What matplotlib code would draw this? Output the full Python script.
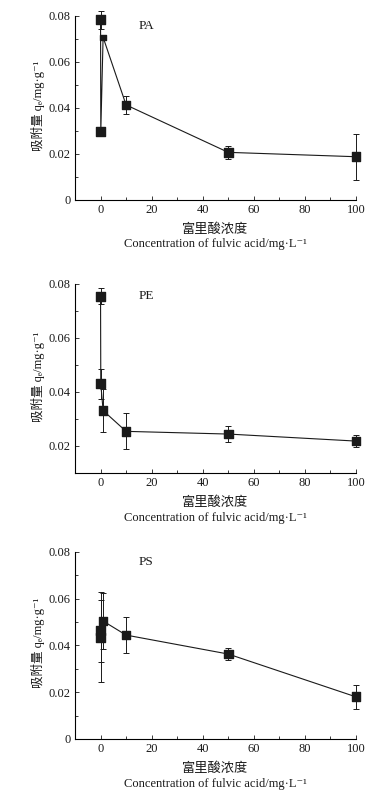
import matplotlib
matplotlib.use('Agg')
import matplotlib.pyplot as plt
from matplotlib.ticker import FuncFormatter, MultipleLocator

plt.rcParams['font.family'] = ['Liberation Serif', 'Noto Sans CJK SC', 'DejaVu Sans']

# fulvic acid concentration, mg/L
conc = [0, 0.1, 1, 10, 50, 100]

# adsorbed amount qe, mg/g, and error bar half-widths
pa_q = [0.0783, 0.0297, 0.0707, 0.0413, 0.0207, 0.0188]
pa_err = [0.0040, 0.0010, 0.0005, 0.0039, 0.0028, 0.0099]

pe_q = [0.0753, 0.0429, 0.0330, 0.0253, 0.0243, 0.0217]
pe_err = [0.0030, 0.0055, 0.0080, 0.0067, 0.0028, 0.0022]

ps_q = [0.0435, 0.0462, 0.0504, 0.0444, 0.0363, 0.0180]
ps_err = [0.0192, 0.0134, 0.0118, 0.0078, 0.0024, 0.0050]

# smaller marker for the one point drawn small in the original
pa_sizes = [40, 40, 14, 40, 40, 40]
std_sizes = [40] * 6

panels = [
    ('PA', pa_q, pa_err, pa_sizes, (0, 0.082), [0.2016, 0.7478, 0.7554, 0.2380]),
    ('PE', pe_q, pe_err, std_sizes, (0.01, 0.081), [0.2016, 0.4039, 0.7554, 0.2420]),
    ('PS', ps_q, ps_err, std_sizes, (0, 0.082), [0.2016, 0.0681, 0.7554, 0.2420]),
]

col = '#1a1a1a'

fig = plt.figure(figsize=(3.72, 7.93), dpi=100)

for name, q, err, sizes, ylim, pos in panels:
    ax = fig.add_axes(pos)
    line, caps, bars = ax.errorbar(conc, q, yerr=err, color=col, lw=0.8, elinewidth=0.7,
                                   capsize=2.5, capthick=0.7, zorder=2)
    for art in [line, *caps, *bars]:
        art.set_clip_on(False)
    ax.scatter(conc, q, s=sizes, marker='s', color=col, zorder=3, clip_on=False)
    ax.set_xlim(-10, 100)
    ax.set_ylim(*ylim)
    ax.spines['top'].set_visible(False)
    ax.spines['right'].set_visible(False)
    ax.spines['left'].set_bounds(ylim[0], 0.08)
    for s in ('left', 'bottom'):
        ax.spines[s].set_linewidth(0.8)
    ax.xaxis.set_major_locator(MultipleLocator(20))
    ax.xaxis.set_minor_locator(MultipleLocator(10))
    ax.yaxis.set_major_locator(MultipleLocator(0.02))
    ax.yaxis.set_minor_locator(MultipleLocator(0.01))
    ax.yaxis.set_major_formatter(FuncFormatter(lambda v, p: '0' if abs(v) < 1e-9 else f'{v:.2f}'))
    ax.tick_params(which='both', direction='in', labelsize=9, width=0.6, colors=col, pad=3)
    ax.tick_params(which='major', length=3)
    ax.tick_params(which='minor', length=2)
    ax.text(15, 0.0755, name, fontsize=9.5, color=col, ha='left', va='center')
    ax.set_ylabel('吸附量 qₑ/mg·g⁻¹', fontsize=9, color=col, labelpad=3)
    ax.text(0.5, -0.155, '富里酸浓度', transform=ax.transAxes, fontsize=9.5,
            ha='center', va='center', color=col)
    ax.text(0.5, -0.235, 'Concentration of fulvic acid/mg·L⁻¹', transform=ax.transAxes,
            fontsize=9, ha='center', va='center', color=col)

fig.savefig('out.png', dpi=100)
